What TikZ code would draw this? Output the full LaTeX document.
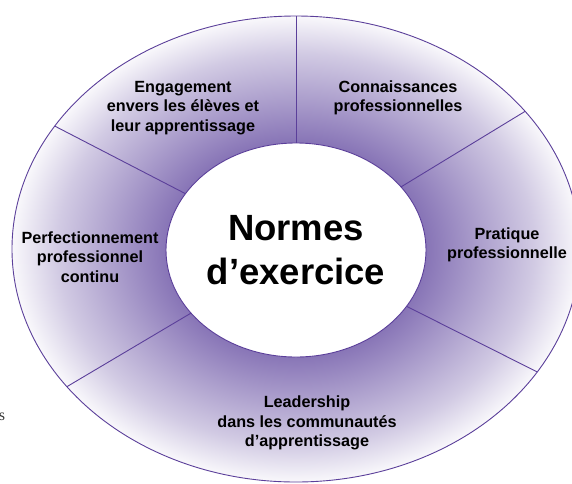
\documentclass[tikz,border=0pt]{standalone}
\usepackage{fontspec}
\setmainfont{Liberation Sans}
\newfontfamily\policeserif{Liberation Serif}
\usepackage{tikz}
\usetikzlibrary{shapes.geometric}

\definecolor{trait}{HTML}{5B3F9A}
\definecolor{anneauvif}{HTML}{8774B6}
\pgfdeclareradialshading{anneau}{\pgfpoint{0bp}{0bp}}{%
  color(0bp)=(anneauvif); color(11.4bp)=(anneauvif);
  color(16bp)=(anneauvif!70!white); color(21bp)=(anneauvif!38!white);
  color(25bp)=(anneauvif!5!white); color(50bp)=(anneauvif!5!white)}

\tikzset{
  etiquette/.style={align=center, font=\fontsize{16.2}{19.5}\selectfont\bfseries},
  rayon/.style={draw=trait, line width=0.9pt}
}

\begin{document}
\begin{tikzpicture}[x=1pt, y=-1pt]

    % Cadre
    \useasboundingbox (0,0) rectangle (572,483);

    % Anneau
    \node (anneau) at (296,249) [ellipse, minimum width=568pt, minimum height=466pt, inner sep=0pt, outer sep=0pt, shading=anneau, draw=trait, line width=0.9pt] {};
    \node (centre) at (296,250) [ellipse, minimum width=260pt, minimum height=214pt, inner sep=0pt, outer sep=0pt, fill=white, draw=trait, line width=0.9pt, align=center, font=\fontsize{36.5}{44}\selectfont\bfseries] {Normes\\d’exercice};

    % Separations
    \foreach \a in {90,31,-27,211,153}
        \draw[rayon] (centre.\a) -- (anneau.\a);

    % Normes
    \node (engagement) at (183,108) [etiquette] {Engagement\\envers les élèves et\\leur apprentissage};
    \node (connaissances) at (398,98) [etiquette] {Connaissances\\professionnelles};
    \node (pratique) at (507,245) [etiquette] {Pratique\\professionnelle};
    \node (perfectionnement) at (90,257) [etiquette] {Perfectionnement\\professionnel\\continu};
    \node (leadership) at (307,423) [etiquette] {Leadership\\dans les communautés\\d’apprentissage};

    % Reste de texte
    \node (reste) at (2,417) [font=\policeserif\fontsize{16}{18}\selectfont, text=black!80] {s};

\end{tikzpicture}
\end{document}
